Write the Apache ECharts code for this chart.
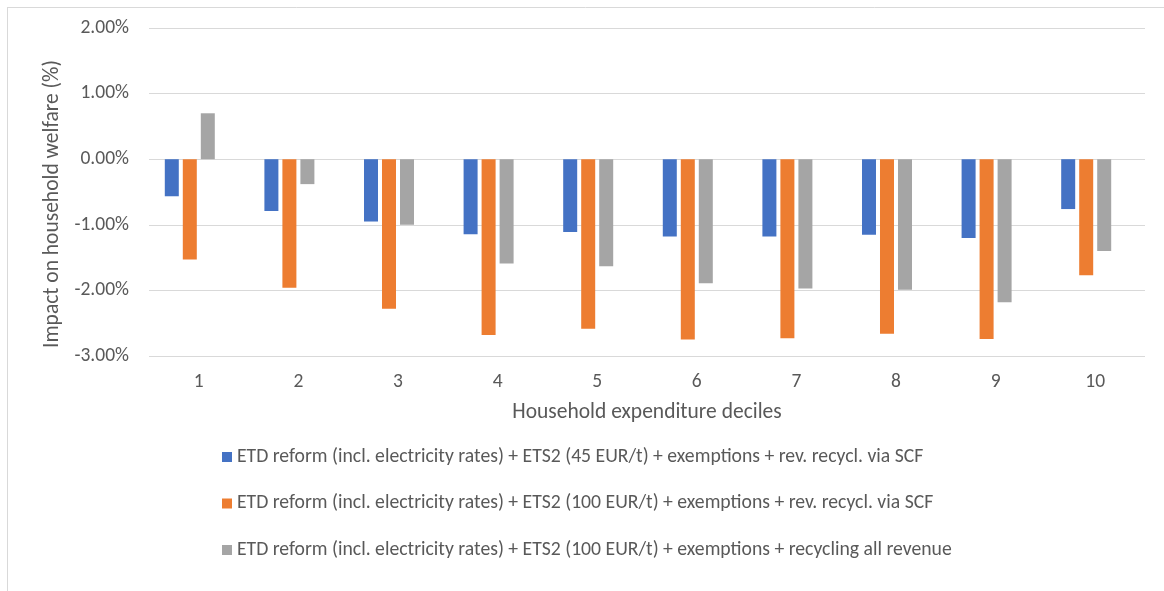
<!DOCTYPE html>
<html>
<head>
<meta charset="utf-8">
<script src="https://cdn.jsdelivr.net/npm/echarts@6/dist/echarts.min.js"></script>
<style>html,body{margin:0;padding:0;background:#fff}#c{width:1164px;height:591px}</style>
</head>
<body>
<div id="c"></div>
<script>
const categories = ['1','2','3','4','5','6','7','8','9','10'];
const seriesNames = [
  'ETD reform (incl. electricity rates) + ETS2 (45 EUR/t) + exemptions + rev. recycl. via SCF',
  'ETD reform (incl. electricity rates) + ETS2 (100 EUR/t) + exemptions + rev. recycl. via SCF',
  'ETD reform (incl. electricity rates) + ETS2 (100 EUR/t) + exemptions + recycling all revenue'
];
const ets45Scf = [-0.565, -0.79, -0.95, -1.145, -1.11, -1.18, -1.18, -1.15, -1.20, -0.76];
const ets100Scf = [-1.53, -1.96, -2.28, -2.68, -2.585, -2.75, -2.73, -2.66, -2.74, -1.77];
const ets100All = [0.70, -0.38, -1.00, -1.59, -1.63, -1.89, -1.97, -1.99, -2.18, -1.40];
const colors = ['#4472C4', '#ED7D31', '#A5A5A5'];
const font = "Carlito, 'Open Sans', sans-serif";
const txt = '#595959';

const chart = echarts.init(document.getElementById('c'), null, {renderer: 'canvas'});
const dataSets = [ets45Scf, ets100Scf, ets100All];
const series = dataSets.map((d, i) => ({
  name: seriesNames[i], type: 'bar', data: d, barWidth: 14, barGap: '28.6%',
  itemStyle: {color: colors[i]}
}));
series.push({name: 'hidden', type: 'bar', data: [], barWidth: 14, barGap: '28.6%'});

chart.setOption({
  animation: false,
  textStyle: {fontFamily: font},
  graphic: [
    {type: 'line', shape: {x1: 7, y1: 7.5, x2: 1164, y2: 7.5}, style: {stroke: '#d9d9d9', lineWidth: 1}},
    {type: 'line', shape: {x1: 7.5, y1: 7, x2: 7.5, y2: 591}, style: {stroke: '#d9d9d9', lineWidth: 1}}
  ],
  grid: {left: 149, right: 19, top: 28, bottom: 235, containLabel: false},
  legend: {
    data: seriesNames, orient: 'vertical', left: 217, top: 442, itemGap: 26.5,
    itemWidth: 10, itemHeight: 10, icon: 'rect',
    textStyle: {color: txt, fontSize: 19.7, fontFamily: font}
  },
  xAxis: {
    type: 'category', data: categories,
    axisLine: {show: false}, axisTick: {show: false},
    axisLabel: {color: txt, fontSize: 19.5, margin: 16, fontFamily: font},
    name: 'Household expenditure deciles', nameLocation: 'middle', nameGap: 46,
    nameTextStyle: {color: txt, fontSize: 21.5, fontFamily: font}
  },
  yAxis: {
    type: 'value', min: -3, max: 2, interval: 1,
    axisLine: {show: false}, axisTick: {show: false},
    splitLine: {lineStyle: {color: '#d9d9d9', width: 1}},
    axisLabel: {color: txt, fontSize: 19.5, margin: 20, fontFamily: font,
      formatter: v => v.toFixed(2) + '%'},
    name: 'Impact on household welfare (%)', nameLocation: 'middle', nameGap: 77,
    nameRotate: 90,
    nameTextStyle: {color: txt, fontSize: 21.5, fontFamily: font, padding: [0, 24, 0, 0]}
  },
  series: series
});
</script>
</body>
</html>
